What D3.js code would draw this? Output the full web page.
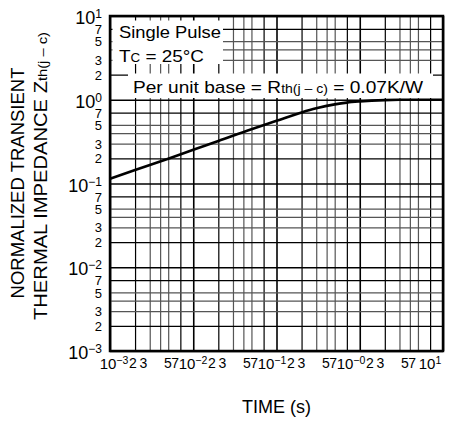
<!DOCTYPE html>
<html lang="en">
<head>
<meta charset="utf-8">
<style>
  body { margin: 0; background: #fff; }
  svg { display: block; font-family: "Liberation Sans", Arial, Helvetica, sans-serif; }
</style>
</head>
<body>
<div id="chart"><svg width="456" height="421"></svg></div>
<script src="https://d3js.org/d3.v7.min.js"></script>
<script>
// curve (time in s, normalized Zth)
var timeS   = [0.001, 0.002, 0.005, 0.01, 0.02, 0.05, 0.1, 0.2, 0.3, 0.5, 0.7, 1, 2, 3, 5, 10];
var zthNorm = [0.114, 0.145, 0.198, 0.253, 0.322, 0.445, 0.56, 0.705, 0.79, 0.88, 0.925, 0.955, 0.99, 0.998, 1.0, 1.0];

// log grid / tick labels
var decades        = [-3, -2, -1, 0, 1];
var gridMantissas  = [1, 2, 3, 4, 5, 7];
var labelMantissas = [1, 2, 3, 5, 7];
var xDecadeSups    = ["\u22123", "\u22122", "\u22121", "\u22120", "1"];
var yDecadeSups    = ["\u22123", "\u22122", "\u22121", "0", "1"];

var W = 456, H = 421;
var margin = {top: 16, right: 13, bottom: 70, left: 110};
var width  = W - margin.left - margin.right;
var height = H - margin.top - margin.bottom;

var svg = d3.select("svg");
var g = svg.append("g")
    .attr("transform", "translate(" + margin.left + "," + margin.top + ")");

function decadeValues(mants) {
  var out = [];
  decades.forEach(function(e) {
    mants.forEach(function(mm) {
      var v = mm * Math.pow(10, e);
      if (v <= 10.0001) out.push(v);
    });
  });
  return out;
}
function expOf(v) { return Math.floor(Math.log10(v) + 1e-9); }
function mantOf(v) { return Math.round(v / Math.pow(10, expOf(v))); }

var x = d3.scaleLog().domain([1e-3, 1e1]).range([0, width]);
var y = d3.scaleLog().domain([1e-3, 1e1]).range([height, 0]);
// the printed x labels are packed tighter than the grid
var xLab = d3.scaleLog().domain([1e-3, 1e1]).range([3.5, 319.5]);
var xNudge = {1: 0, 2: -4.9, 3: -8.4, 5: -1.4, 7: -5.5};

function styleGrid(sel) {
  sel.select(".domain").remove();
  sel.selectAll(".tick line")
      .attr("stroke", function(d) {
        var m = mantOf(d);
        return (m === 3 || m === 4 || m === 5) ? "#555" : "#000";
      })
      .attr("stroke-width", function(d) { return mantOf(d) === 1 ? 1.6 : 1.2; });
}

var gridVals = decadeValues(gridMantissas);

// grid
g.append("g")
    .attr("transform", "translate(0," + height + ")")
    .call(d3.axisBottom(x).tickValues(gridVals).tickSize(-height).tickFormat(""))
    .call(styleGrid);

g.append("g")
    .call(d3.axisLeft(y).tickValues(gridVals).tickSize(-width).tickFormat(""))
    .call(styleGrid);

// white boxes behind the notes
g.append("rect")
    .attr("x", 2.5).attr("y", 4.5)
    .attr("width", 110.5).attr("height", 43.5)
    .attr("fill", "#fff");
g.append("rect")
    .attr("x", 18).attr("y", 57.5)
    .attr("width", 305).attr("height", 24.5)
    .attr("fill", "#fff");

// curve
var pts = timeS.map(function(t, i) { return [t, zthNorm[i]]; });
var line = d3.line()
    .x(function(d) { return x(d[0]); })
    .y(function(d) { return y(d[1]); })
    .curve(d3.curveMonotoneX);

g.append("path")
    .datum(pts)
    .attr("fill", "none")
    .attr("stroke", "#000")
    .attr("stroke-width", 2.6)
    .attr("stroke-linejoin", "round")
    .attr("d", line);

// frame
g.append("rect")
    .attr("width", width).attr("height", height)
    .attr("fill", "none")
    .attr("stroke", "#000")
    .attr("stroke-width", 2.5);

// x tick labels
var labelVals = decadeValues(labelMantissas);
var xAxis = g.append("g")
    .attr("transform", "translate(0," + height + ")")
    .call(d3.axisBottom(xLab).tickValues(labelVals).tickSize(0).tickPadding(7)
      .tickFormat(function(d) { return mantOf(d) === 1 ? "" : String(mantOf(d)); }));
xAxis.select(".domain").remove();
xAxis.selectAll("text")
    .attr("font-size", 14)
    .attr("fill", "#000")
    .attr("dx", function(d) { return xNudge[mantOf(d)]; })
    .each(function(d) {
      if (mantOf(d) !== 1) return;
      var t = d3.select(this).attr("font-size", 15);
      t.append("tspan").text("10");
      t.append("tspan").attr("font-size", 10.5).attr("dy", -5)
          .text(xDecadeSups[expOf(d) - decades[0]]);
    });

// y tick labels
var yAxis = g.append("g")
    .call(d3.axisLeft(y).tickValues(labelVals).tickSize(0).tickPadding(8)
      .tickFormat(function(d) { return mantOf(d) === 1 ? "" : String(mantOf(d)); }));
yAxis.select(".domain").remove();
yAxis.selectAll("text")
    .attr("font-size", 13)
    .attr("fill", "#000")
    .attr("dy", "0.36em")
    .each(function(d) {
      if (mantOf(d) !== 1) return;
      var t = d3.select(this)
          .attr("font-size", 18)
          .attr("dy", "0.42em");
      t.append("tspan").text("10");
      t.append("tspan").attr("font-size", 12).attr("dy", -6)
          .text(yDecadeSups[expOf(d) - decades[0]]);
    });

// notes inside the plot
g.append("text")
    .attr("x", 9).attr("y", 22)
    .attr("font-size", 17)
    .attr("textLength", 102).attr("lengthAdjust", "spacingAndGlyphs")
    .text("Single Pulse");

var note2 = g.append("text")
    .attr("x", 9).attr("y", 46)
    .attr("font-size", 17)
    .attr("textLength", 85).attr("lengthAdjust", "spacingAndGlyphs");
note2.append("tspan").text("T");
note2.append("tspan").attr("font-size", 12).text("C");
note2.append("tspan").text(" = 25\u00B0C");

var note3 = g.append("text")
    .attr("x", 23).attr("y", 77)
    .attr("font-size", 17)
    .attr("textLength", 290).attr("lengthAdjust", "spacingAndGlyphs");
note3.append("tspan").text("Per unit base = R");
note3.append("tspan").attr("font-size", 12.5).text("th(j \u2013 c)");
note3.append("tspan").text(" = 0.07K/W");

// axis titles
svg.append("text")
    .attr("x", margin.left + width / 2).attr("y", 413)
    .attr("text-anchor", "middle")
    .attr("font-size", 18)
    .text("TIME (s)");

svg.append("text")
    .attr("transform", "translate(24,183) rotate(-90)")
    .attr("text-anchor", "middle")
    .attr("font-size", 18.5)
    .text("NORMALIZED TRANSIENT");

var yTitle2 = svg.append("text")
    .attr("transform", "translate(46.5,176) rotate(-90)")
    .attr("text-anchor", "middle")
    .attr("font-size", 18.5)
    .attr("textLength", 288).attr("lengthAdjust", "spacingAndGlyphs");
yTitle2.append("tspan").text("THERMAL IMPEDANCE Z");
yTitle2.append("tspan").attr("font-size", 13.5).text("th(j \u2013 c)");
</script>
</body>
</html>
